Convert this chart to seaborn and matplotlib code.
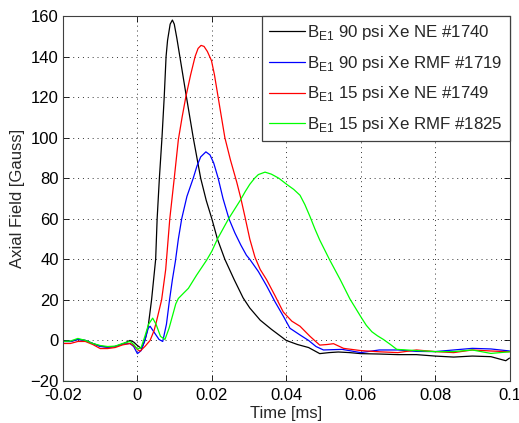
import pandas as pd
import matplotlib
matplotlib.use("Agg")
import matplotlib.pyplot as plt
import seaborn as sns

# values
t_ne90 = [-0.02, -0.018, -0.016, -0.014, -0.012, -0.01, -0.008, -0.006, -0.004, -0.002, -0.001,
          0.0, 0.0011, 0.002, 0.0029, 0.0038, 0.0049, 0.0053, 0.0059, 0.0066, 0.0072, 0.0077,
          0.0081, 0.0088, 0.0094, 0.0099, 0.0106, 0.0114, 0.0122, 0.013, 0.014, 0.015, 0.016,
          0.017, 0.0185, 0.02, 0.0215, 0.0235, 0.026, 0.0284, 0.0302, 0.033, 0.036, 0.04,
          0.043, 0.046, 0.049, 0.0515, 0.054, 0.057, 0.06, 0.065, 0.07, 0.075, 0.08, 0.085,
          0.09, 0.095, 0.099, 0.1]
b_ne90 = [-0.5, -0.5, 0.5, 0, -1.5, -2.8, -3.3, -3, -1.8, 0, -0.8,
          -2.5, -4, 0, 7, 20, 40, 60, 80, 100, 120, 140,
          148, 156, 158, 156, 149, 140, 131, 122, 111, 100, 90,
          80, 69, 60, 50, 40, 30, 21, 16, 10, 5.5, 0,
          -2, -3.5, -6.5, -6, -5.7, -6, -6.5, -6.7, -7, -7, -7.7, -8.2,
          -7.7, -8, -10, -8.7]

t_rmf90 = [-0.02, -0.018, -0.016, -0.014, -0.012, -0.01, -0.008, -0.006, -0.004, -0.002, -0.001,
           0.0, 0.001, 0.002, 0.0029, 0.0034, 0.0045, 0.0058, 0.0068, 0.0078, 0.0086, 0.0094,
           0.0102, 0.011, 0.0119, 0.0133, 0.015, 0.016, 0.017, 0.0184, 0.0195, 0.0205, 0.0217,
           0.023, 0.0246, 0.0262, 0.0278, 0.0293, 0.0302, 0.0325, 0.0347, 0.037, 0.0392,
           0.041, 0.0437, 0.046, 0.048, 0.05, 0.055, 0.06, 0.065, 0.07, 0.075, 0.08, 0.085,
           0.09, 0.095, 0.1]
b_rmf90 = [-0.5, -0.5, 0.5, 0, -1.5, -3, -3.3, -3, -1.8, -1.5, -3,
           -6.5, -5, 0, 6, 7, 4, 0.5, -0.5, 8, 19.6, 30,
           39, 50, 60, 71, 80, 86, 90.5, 93, 91.5, 87.5, 80,
           70, 60, 53, 47, 42, 40, 34, 27, 19, 12,
           6, 2.7, 0, -3, -4.7, -4.4, -6, -4.7, -4.7, -5.4, -5.5, -4.7,
           -3.9, -4.2, -5.2]

t_ne15 = [-0.02, -0.018, -0.016, -0.014, -0.012, -0.01, -0.008, -0.006, -0.004, -0.002, -0.001,
          0.0, 0.0007, 0.002, 0.0034, 0.0045, 0.0052, 0.0065, 0.0076, 0.0087, 0.0099, 0.011,
          0.012, 0.013, 0.0143, 0.0155, 0.0163, 0.0171, 0.0179, 0.0188, 0.0199, 0.0207, 0.0216,
          0.0225, 0.0235, 0.025, 0.0267, 0.0278, 0.0289, 0.0302, 0.0316, 0.033, 0.0347, 0.037,
          0.0392, 0.0415, 0.0437, 0.0464, 0.049, 0.051, 0.0527, 0.0554, 0.06, 0.065, 0.07,
          0.075, 0.08, 0.085, 0.09, 0.095, 0.1]
b_ne15 = [-1.5, -1.5, -0.5, -0.5, -2, -4, -4, -3.5, -2.2, -1.5, -2.5,
          -4.5, -5.3, -3, 0, 5, 10, 20, 35, 60, 80, 99,
          110, 120, 131, 140, 144, 145.5, 145, 142.5, 138, 131, 121,
          111, 100, 89, 78, 70, 61, 50, 41, 35, 30, 22,
          14, 9.5, 7, 2, -2.3, -2, -1.6, -3.9, -5, -5.6, -6,
          -4.7, -5.5, -6, -4.7, -5.2, -5.6]

t_rmf15 = [-0.02, -0.018, -0.016, -0.014, -0.012, -0.01, -0.008, -0.006, -0.004, -0.002, -0.001,
           0.0, 0.001, 0.002, 0.003, 0.0041, 0.005, 0.0062, 0.0074, 0.0085, 0.0096, 0.0103,
           0.011, 0.0125, 0.0137, 0.0159, 0.0186, 0.02, 0.0215, 0.023, 0.0245, 0.0276, 0.029,
           0.0302, 0.0315, 0.0325, 0.0343, 0.036, 0.038, 0.0401, 0.042, 0.0437, 0.045, 0.0464,
           0.0477, 0.049, 0.0517, 0.0545, 0.0571, 0.0601, 0.0615, 0.063, 0.0645, 0.0661, 0.068,
           0.0697, 0.075, 0.08, 0.085, 0.09, 0.095, 0.1]
b_rmf15 = [-0.5, -0.3, 1, 0, -1.5, -2.5, -3, -2.8, -1.5, -0.5, -2,
           -4.3, -3.5, 2, 8, 11, 8, 2, 0.5, 6, 13.3, 18,
           20.7, 23.5, 25.7, 32.2, 39.6, 44, 50, 55, 60, 69, 73.5,
           77, 80, 81.8, 83, 82, 80, 77, 74.5, 71.6, 67, 61,
           55, 49.5, 39.6, 30, 20.5, 11.5, 7.5, 4.3, 2.3, 0.5, -2,
           -4.4, -5, -5.5, -5.5, -4.7, -6.4, -5.6]

labels = [r'B$_{\mathregular{E1}}$ 90 psi Xe NE #1740',
          r'B$_{\mathregular{E1}}$ 90 psi Xe RMF #1719',
          r'B$_{\mathregular{E1}}$ 15 psi Xe NE #1749',
          r'B$_{\mathregular{E1}}$ 15 psi Xe RMF #1825']
colors = ['#000000', '#0000ff', '#ff0000', '#00ff00']
series = [(t_ne90, b_ne90), (t_rmf90, b_rmf90), (t_ne15, b_ne15), (t_rmf15, b_rmf15)]

sns.set_style("white")
plt.rcParams['font.family'] = ['Liberation Sans', 'DejaVu Sans']
plt.rcParams['mathtext.fontset'] = 'custom'
plt.rcParams['mathtext.rm'] = 'Liberation Sans'

fig = plt.figure(figsize=(5.19, 4.23), dpi=100)
ax = fig.add_axes([0.1214, 0.0993, 0.8603, 0.8629])

for (t, b), lab, c in zip(series, labels, colors):
    df = pd.DataFrame({'Time': t, 'Field': b})
    sns.lineplot(data=df, x='Time', y='Field', color=c, linewidth=0.9, ax=ax,
                 label=lab, sort=False, estimator=None)

ax.set_xlim(-0.02, 0.1)
ax.set_ylim(-20, 160)
ax.set_xticks([-0.02, 0, 0.02, 0.04, 0.06, 0.08, 0.1])
ax.set_xticklabels(['-0.02', '0', '0.02', '0.04', '0.06', '0.08', '0.1'])
ax.set_yticks(range(-20, 161, 20))
ax.tick_params(direction='in', length=4, width=0.6, labelsize=12, colors='black',
               top=True, right=True, bottom=True, left=True)
ax.tick_params(axis='x', pad=5)
ax.tick_params(axis='y', pad=3)
ax.grid(True, linestyle=(0, (1, 4)), color='black', linewidth=0.7, alpha=0.8)
for s in ax.spines.values():
    s.set_color('#404040')
    s.set_linewidth(0.8)

ax.set_xlabel('Time [ms]', fontsize=12, labelpad=2)
ax.set_ylabel('Axial Field [Gauss]', fontsize=12, labelpad=4)

leg = ax.legend(loc='upper right', borderaxespad=0, fontsize=12.2, handlelength=2.1,
                handletextpad=0.15, labelspacing=0.7, fancybox=False, framealpha=1,
                edgecolor='#404040', borderpad=0.4)
leg.get_frame().set_linewidth(0.9)

fig.savefig('out.png', dpi=100)
